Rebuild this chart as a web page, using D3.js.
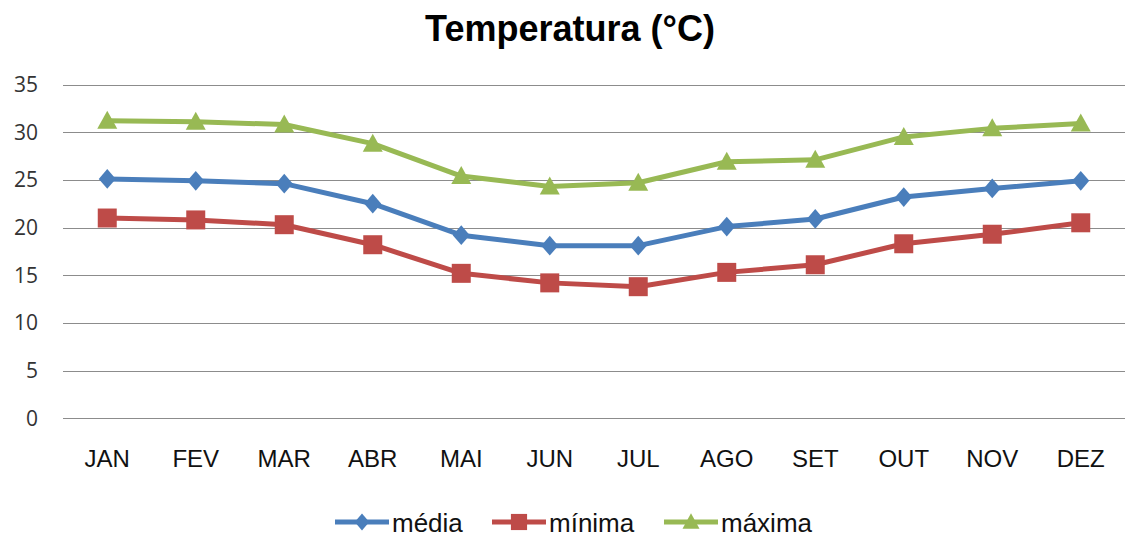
<!DOCTYPE html>
<html>
<head>
<meta charset="utf-8">
<script src="https://cdn.jsdelivr.net/npm/d3@7"></script>
<style>
  body { margin: 0; background: #fff; }
  svg text { font-family: "Liberation Sans", Arial, sans-serif; }
</style>
</head>
<body>
<div id="chart"></div>
<script>
// data
var months = ["JAN", "FEV", "MAR", "ABR", "MAI", "JUN", "JUL", "AGO", "SET", "OUT", "NOV", "DEZ"];
var media  = [25.1, 24.9, 24.6, 22.5, 19.2, 18.1, 18.1, 20.1, 20.9, 23.2, 24.1, 24.9];
var minima = [21.0, 20.8, 20.3, 18.2, 15.2, 14.2, 13.8, 15.3, 16.1, 18.3, 19.3, 20.5];
var maxima = [31.2, 31.1, 30.8, 28.8, 25.4, 24.3, 24.7, 26.9, 27.1, 29.5, 30.4, 30.9];
var yTicks = [0, 5, 10, 15, 20, 25, 30, 35];

var width = 1125, height = 539;

var svg = d3.select("#chart").append("svg")
    .attr("width", width)
    .attr("height", height);

var x = d3.scalePoint()
    .domain(months)
    .range([63, 1125])
    .padding(0.5);

var y = d3.scaleLinear()
    .domain([0, 35])
    .range([418.3, 84.5]);

// excel-like marker shapes (size = full width)
var diamond = {
  draw: function(ctx, s) {
    var w = s / 2, h = s * 0.58;
    ctx.moveTo(0, -h); ctx.lineTo(w, 0); ctx.lineTo(0, h); ctx.lineTo(-w, 0); ctx.closePath();
  }
};
var square = {
  draw: function(ctx, s) {
    var r = s / 2;
    ctx.rect(-r, -r, s, s);
  }
};
var triangle = {
  draw: function(ctx, s) {
    var r = s / 2, h = s * 0.9;
    ctx.moveTo(0, -h / 2 - 1); ctx.lineTo(r, h / 2 - 1); ctx.lineTo(-r, h / 2 - 1); ctx.closePath();
  }
};

// title
svg.append("text")
    .attr("x", 570)
    .attr("y", 41)
    .attr("text-anchor", "middle")
    .style("font-size", "36px")
    .style("font-weight", "bold")
    .text("Temperatura (°C)");

// gridlines + y labels
var grid = svg.append("g");
grid.selectAll("line")
    .data(yTicks)
    .enter().append("line")
    .attr("x1", 63).attr("x2", 1125)
    .attr("y1", function(d) { return Math.round(y(d)) + 0.5; })
    .attr("y2", function(d) { return Math.round(y(d)) + 0.5; })
    .attr("stroke", "#8c8c8c")
    .attr("stroke-width", 1);

grid.selectAll("text")
    .data(yTicks)
    .enter().append("text")
    .attr("x", 38)
    .attr("y", function(d) { return y(d) + 7.5; })
    .attr("text-anchor", "end")
    .style("font-family", "'Open Sans', sans-serif")
    .style("font-size", "21px")
    .attr("fill", "#333")
    .text(function(d) { return d; });

// month labels
svg.append("g").selectAll("text")
    .data(months)
    .enter().append("text")
    .attr("x", function(d) { return x(d); })
    .attr("y", 467)
    .attr("text-anchor", "middle")
    .style("font-size", "24px")
    .attr("fill", "#111")
    .text(function(d) { return d; });

var series = [
  { name: "média",  values: media,  color: "#4a7ebb", symbol: diamond,  size: 17 },
  { name: "mínima", values: minima, color: "#be4b48", symbol: square,   size: 19 },
  { name: "máxima", values: maxima, color: "#98b954", symbol: triangle, size: 20 }
];

var line = d3.line()
    .x(function(d, i) { return x(months[i]); })
    .y(function(d) { return y(d); });

series.forEach(function(s) {
  var g = svg.append("g");
  g.append("path")
    .attr("d", line(s.values))
    .attr("fill", "none")
    .attr("stroke", s.color)
    .attr("stroke-width", 5)
    .attr("stroke-linejoin", "round");

  g.selectAll("path.marker")
    .data(s.values)
    .enter().append("path")
    .attr("class", "marker")
    .attr("d", d3.symbol().type(s.symbol).size(s.size))
    .attr("transform", function(d, i) { return "translate(" + x(months[i]) + "," + y(d) + ")"; })
    .attr("fill", s.color);
});

// legend
var legendX = [335, 492, 664];
var legend = svg.append("g");
series.forEach(function(s, i) {
  var lx = legendX[i], ly = 522;
  legend.append("line")
    .attr("x1", lx).attr("x2", lx + 54)
    .attr("y1", ly).attr("y2", ly)
    .attr("stroke", s.color)
    .attr("stroke-width", 5);
  legend.append("path")
    .attr("d", d3.symbol().type(s.symbol).size(s.size * 0.85))
    .attr("transform", "translate(" + (lx + 27) + "," + ly + ")")
    .attr("fill", s.color);
  legend.append("text")
    .attr("x", lx + 57)
    .attr("y", ly + 10)
    .style("font-size", "26px")
    .attr("fill", "#111")
    .text(s.name);
});
</script>
</body>
</html>
